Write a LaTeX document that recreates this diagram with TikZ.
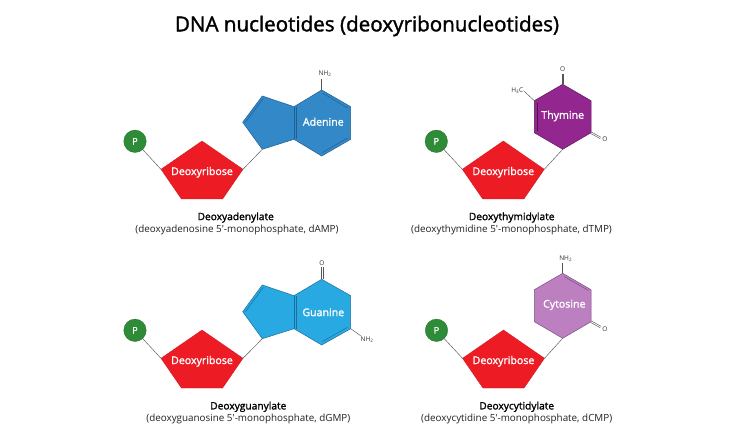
\documentclass[tikz,border=0pt]{standalone}
\usepackage{fontspec}
\setmainfont{Open Sans}
\newfontfamily\semifont[FakeBold=1.6]{Open Sans}
\tikzset{
  x=1pt,y=-1pt,
  sugar/.style={fill=sugarred,draw=sugarred!85!black,line width=.3pt},
  phos/.style={circle,fill=phosgreen,draw=phosgreen!80!black,line width=.3pt,minimum size=22.5pt,inner sep=0pt,text=white,font=\fontsize{9}{10}\semifont},
  bond/.style={draw=bondgray,line width=.45pt},
  lab/.style={text=white,font=\fontsize{10.6}{12}\semifont,inner sep=0pt},
  chem/.style={text=chemgray,font=\fontsize{6.5}{7}\selectfont,inner sep=0pt},
  captitle/.style={text=black,font=\fontsize{10.2}{12}\semifont,inner sep=0pt},
  subcap/.style={text=captext,font=\fontsize{9.85}{12}\selectfont,inner sep=0pt},
  basering/.style={line width=.5pt,line join=miter},
  inbond/.style={line width=.5pt},
}
\definecolor{sugarred}{HTML}{ED1C24}
\definecolor{phosgreen}{HTML}{2E8B38}
\definecolor{bondgray}{HTML}{555555}
\definecolor{chemgray}{HTML}{333333}
\definecolor{captext}{HTML}{222222}
\definecolor{adeblue}{HTML}{3388C8}
\definecolor{adedark}{HTML}{1F5F94}
\definecolor{guablue}{HTML}{29A9E2}
\definecolor{guadark}{HTML}{1A6F9C}
\definecolor{thypurple}{HTML}{93278F}
\definecolor{thydark}{HTML}{5E1A5C}
\definecolor{cytlilac}{HTML}{BC7FC0}
\definecolor{cytdark}{HTML}{7D4F82}
% #1 suffix, #2 sugar apex x, #3 sugar apex y
\newcommand{\sugarunit}[3]{%
  \coordinate (st#1) at (#2,#3);
  \coordinate (sl#1) at (#2-41,#3+28.3);
  \coordinate (sr#1) at (#2+41,#3+28.3);
  \coordinate (sbl#1) at (#2-20.6,#3+58);
  \coordinate (sbr#1) at (#2+20.6,#3+58);
  \fill[sugar] (st#1) -- (sr#1) -- (sbr#1) -- (sbl#1) -- (sl#1) -- cycle;
  \node[phos] (p#1) at (#2-67,#3+.3) {P};
  \draw[bond] (p#1) -- (sl#1);
  \node[lab] (d#1) at (#2,#3+31.3) {Deoxyribose};
}
\begin{document}
\begin{tikzpicture}
\useasboundingbox (0,0) rectangle (730,435);
\fill[white] (0,0) rectangle (730,435);
\node[font=\fontsize{20.6}{24}\semifont,inner sep=0pt] (title) at (367,26) {DNA nucleotides (deoxyribonucleotides)};

% Adenine
\sugarunit{a}{202}{141}
\coordinate (a1) at (262.3,96); \coordinate (a2) at (294,106.7); \coordinate (a3) at (294,139.3);
\coordinate (a4) at (262.3,149.3); \coordinate (a5) at (242.7,122.3);
\coordinate (a6) at (321.7,90); \coordinate (a7) at (350.7,106.7); \coordinate (a8) at (350.7,139.3); \coordinate (a9) at (321.7,156);
\draw[bond] (sra) -- (a4);
\filldraw[basering,fill=adeblue,draw=adedark] (a1) -- (a2) -- (a6) -- (a7) -- (a8) -- (a9) -- (a3) -- (a4) -- (a5) -- cycle;
\draw[inbond,adedark] (a2) -- (a3);
\draw[inbond,adedark] (295.8,106.7) -- (295.8,139.3);
\draw[inbond,adedark] (245.4,122.3) -- (263.3,98.4);
\draw[inbond,adedark] (322.5,93) -- (347.5,108);
\draw[inbond,adedark] (347.5,138) -- (322.5,152.5);
\coordinate (an) at (321.7,79);
\draw[bond] (a6) -- (an);
\node[chem] (nha) at (325,74) {NH\textsubscript{2}};
\node[lab] (lada) at (323.3,121.7) {Adenine};
\node[captitle] (capa) at (235.7,217.5) {Deoxyadenylate};
\node[subcap] (suba) at (237,230) {(deoxyadenosine 5′-monophosphate, dAMP)};

% Thymine
\sugarunit{t}{503.3}{141}
\coordinate (t1) at (562.7,84.3); \coordinate (t2) at (591,100.7); \coordinate (t3) at (591,132.7);
\coordinate (t4) at (562.7,149.3); \coordinate (t5) at (534.3,132.7); \coordinate (t6) at (534.3,100.7);
\draw[bond] (srt) -- (t4);
\filldraw[basering,fill=thypurple,draw=thydark] (t1) -- (t2) -- (t3) -- (t4) -- (t5) -- (t6) -- cycle;
\draw[inbond,thydark!80!black] (537,103) -- (537,131);
\node[chem] (ot) at (562.7,69.3) {O};
\draw[bond] (561.9,84.3) -- (561.9,74) (563.5,84.3) -- (563.5,74);
\node[chem] (ort) at (605,139.3) {O};
\draw[bond] (591.4,132) -- (601,137.3) (590.6,133.4) -- (600.2,138.7);
\node[chem] (hc) at (517.3,90.7) {H\textsubscript{3}C};
\draw[bond] (t6) -- (hc.east);
\node[lab] (ladt) at (562.7,116) {Thymine};
\node[captitle] (capt) at (511.7,217.5) {Deoxythymidylate};
\node[subcap] (subt) at (511.5,230) {(deoxythymidine 5′-monophosphate, dTMP)};

% Guanine
\sugarunit{g}{202}{330}
\coordinate (g1) at (262.3,285); \coordinate (g2) at (294,295.7); \coordinate (g3) at (294,328.7);
\coordinate (g4) at (262.3,338.7); \coordinate (g5) at (242.7,311.7);
\coordinate (g6) at (321.7,279.3); \coordinate (g7) at (350.7,295.7); \coordinate (g8) at (350.7,328.7); \coordinate (g9) at (321.7,345);
\draw[bond] (srg) -- (g4);
\filldraw[basering,fill=guablue,draw=guadark] (g1) -- (g2) -- (g6) -- (g7) -- (g8) -- (g9) -- (g3) -- (g4) -- (g5) -- cycle;
\draw[inbond,guadark] (g2) -- (g3);
\draw[inbond,guadark] (295.8,295.7) -- (295.8,328.7);
\draw[inbond,guadark] (245.4,311.7) -- (263.3,287.4);
\draw[inbond,guadark] (347.5,327.3) -- (322.5,341.5);
\node[chem] (og) at (322,262.7) {O};
\draw[bond] (321.2,279.3) -- (321.2,267) (322.8,279.3) -- (322.8,267);
\node[chem] (nhg) at (367,340) {NH\textsubscript{2}};
\draw[bond] (g8) -- (361,336);
\node[lab] (ladg) at (323.3,312.3) {Guanine};
\node[captitle] (capg) at (248.3,406.8) {Deoxyguanylate};
\node[subcap] (subg) at (248.3,419) {(deoxyguanosine 5′-monophosphate, dGMP)};

% Cytosine
\sugarunit{c}{503.5}{330}
\coordinate (c1) at (562.7,273.3); \coordinate (c2) at (591,289.7); \coordinate (c3) at (591,321.7);
\coordinate (c4) at (562.7,338.3); \coordinate (c5) at (534.3,321.7); \coordinate (c6) at (534.3,289.7);
\draw[bond] (src) -- (c4);
\filldraw[basering,fill=cytlilac,draw=cytdark] (c1) -- (c2) -- (c3) -- (c4) -- (c5) -- (c6) -- cycle;
\draw[inbond,cytdark] (564,276.5) -- (588.5,290.5);
\coordinate (cn) at (562.7,263.5);
\draw[bond] (c1) -- (cn);
\node[chem] (nhc) at (565.7,258.3) {NH\textsubscript{2}};
\node[chem] (orc) at (605,328.7) {O};
\draw[bond] (591.4,321) -- (601,326.3) (590.6,322.4) -- (600.2,327.7);
\node[lab] (ladc) at (564.3,305) {Cytosine};
\node[captitle] (capc) at (516.7,406.8) {Deoxycytidylate};
\node[subcap] (subc) at (516.7,419) {(deoxycytidine 5′-monophosphate, dCMP)};
\end{tikzpicture}
\end{document}
